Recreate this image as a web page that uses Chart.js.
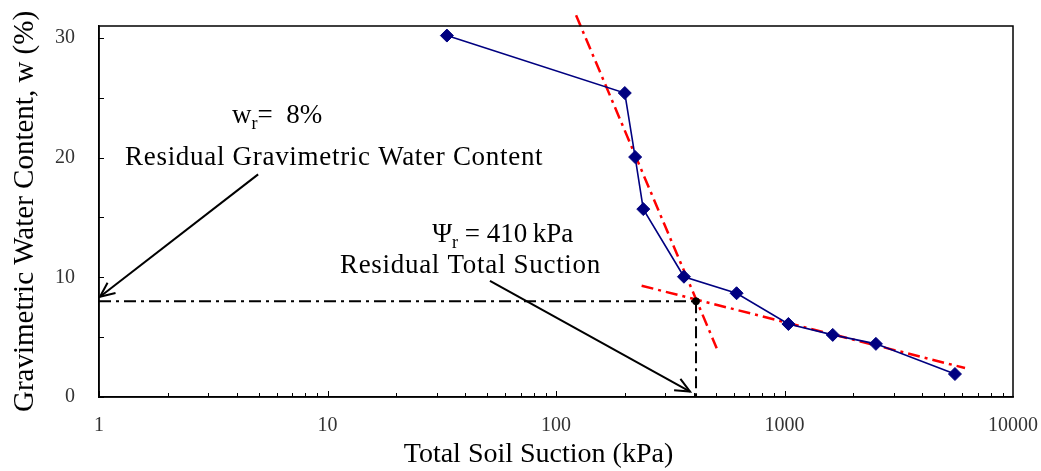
<!DOCTYPE html>
<html>
<head>
<meta charset="utf-8">
<script src="https://cdn.jsdelivr.net/npm/chart.js@4.4.1/dist/chart.umd.min.js"></script>
<style>
html,body{margin:0;padding:0;background:#fff;}
#wrap{width:1041px;height:471px;position:relative;}
</style>
</head>
<body>
<div id="wrap"><canvas id="c"></canvas></div>
<script>
// ---- data ----
const suction = [33.3, 200, 222, 241, 363, 617, 1040, 1626, 2512, 5572];       // kPa
const water   = [30.2, 25.4, 20.05, 15.7, 10.05, 8.67, 6.1, 5.19, 4.44, 1.92];   // %
const steepFitX = [122.4, 505];
const steepFitY = [31.9, 4.08];
const flatFitX  = [237, 6166];
const flatFitY  = [9.3, 2.42];
const residualSuction = 410;   // kPa
const residualWater   = 8;     // %
const xTickValues = [1, 10, 100, 1000, 10000];
const yTickValues = [0, 10, 20, 30];
const yMinorTicks = [0, 5, 10, 15, 20, 25, 30];
// annotations (data coordinates)
const arrowWater   = {from: [4.97, 18.6], to: [1.01, 8.37]};
const arrowSuction = {from: [51.4, 9.7],  to: [386, 0.45]};
const labelWr      = {at: [3.82, 22.9]};
const labelWrText  = {at: [1.30, 19.36], text: 'Residual Gravimetric Water Content'};
const labelPsi     = {at: [28.7, 12.92]};
const labelPsiText = {at: [11.34, 10.38], text: 'Residual Total Suction'};

const pts = (xs, ys) => xs.map((x, i) => ({x, y: ys[i]}));
const SERIF = '"Liberation Serif", "DejaVu Serif", serif';
const dashDot = [12, 5, 3, 5];

const overlay = {
  id: 'overlay',
  afterDraw(chart) {
    const {ctx, chartArea: a, scales: {x, y}} = chart;
    ctx.save();
    // frame
    ctx.strokeStyle = '#000';
    ctx.lineWidth = 1.5;
    ctx.strokeRect(a.left, a.top, a.right - a.left, a.bottom - a.top);
    // inward ticks
    ctx.lineWidth = 1;
    ctx.beginPath();
    for (let d = 0; d < 4; d++) {
      for (let k = 1; k <= 9; k++) {
        const v = k * Math.pow(10, d);
        const px = Math.round(x.getPixelForValue(v)) + 0.5;
        const len = k === 1 ? 6 : 4;
        ctx.moveTo(px, a.bottom); ctx.lineTo(px, a.bottom - len);
      }
    }
    yMinorTicks.forEach(v => {
      const py = Math.round(y.getPixelForValue(v)) + 0.5;
      ctx.moveTo(a.left, py); ctx.lineTo(a.left + 5, py);
    });
    ctx.stroke();

    // arrows
    const arrow = (ar) => {
      const x1 = x.getPixelForValue(ar.from[0]), y1 = y.getPixelForValue(ar.from[1]);
      const x2 = x.getPixelForValue(ar.to[0]),   y2 = y.getPixelForValue(ar.to[1]);
      ctx.strokeStyle = '#000';
      ctx.lineWidth = 2;
      ctx.beginPath(); ctx.moveTo(x1, y1); ctx.lineTo(x2, y2); ctx.stroke();
      const ang = Math.atan2(y2 - y1, x2 - x1);
      const L = 16, sp = 0.42;
      ctx.beginPath();
      ctx.moveTo(x2 - L * Math.cos(ang - sp), y2 - L * Math.sin(ang - sp));
      ctx.lineTo(x2, y2);
      ctx.lineTo(x2 - L * Math.cos(ang + sp), y2 - L * Math.sin(ang + sp));
      ctx.stroke();
    };
    arrow(arrowWater);
    arrow(arrowSuction);

    // texts
    ctx.fillStyle = '#000';
    ctx.textBaseline = 'alphabetic';
    ctx.textAlign = 'left';
    const big = '27px ' + SERIF, sub = '18px ' + SERIF;
    const put = (lab, txt) => {
      ctx.font = big;
      ctx.letterSpacing = '0.7px';
      ctx.fillText(txt, x.getPixelForValue(lab.at[0]), y.getPixelForValue(lab.at[1]));
    };
    put(labelWrText, labelWrText.text);
    put(labelPsiText, labelPsiText.text);
    const withSub = (lab, main, s, rest) => {
      let px = x.getPixelForValue(lab.at[0]);
      const py = y.getPixelForValue(lab.at[1]);
      ctx.letterSpacing = '0px';
      ctx.font = big; ctx.fillText(main, px, py); px += ctx.measureText(main).width;
      ctx.font = sub; ctx.fillText(s, px, py + 6); px += ctx.measureText(s).width;
      ctx.font = big; ctx.fillText(rest, px, py);
    };
    withSub(labelWr, 'w', 'r', '=  8%');
    withSub(labelPsi, '\u03A8', 'r', ' = 410\u2009kPa');
    ctx.restore();
  }
};

new Chart(document.getElementById('c'), {
  type: 'scatter',
  data: {
    datasets: [
      {
        data: pts(suction, water),
        showLine: true,
        borderColor: '#000080',
        backgroundColor: '#000080',
        borderWidth: 1.6,
        pointStyle: 'rectRot',
        pointRadius: 6.5,
        pointBorderWidth: 1,
        order: 0
      },
      {
        data: pts(steepFitX, steepFitY),
        showLine: true, borderColor: '#ff0000', borderWidth: 2.5,
        borderDash: dashDot, pointRadius: 0, clip: false, order: 1
      },
      {
        data: pts(flatFitX, flatFitY),
        showLine: true, borderColor: '#ff0000', borderWidth: 2.5,
        borderDash: dashDot, pointRadius: 0, clip: false, order: 1
      },
      {
        data: [{x: 1, y: residualWater}, {x: residualSuction, y: residualWater}],
        showLine: true, borderColor: '#000', borderWidth: 2,
        borderDash: dashDot, pointRadius: 0, order: 2
      },
      {
        data: [{x: residualSuction, y: residualWater}, {x: residualSuction, y: 0}],
        showLine: true, borderColor: '#000', borderWidth: 2,
        borderDash: dashDot, pointRadius: 0, order: 2
      },
      {
        data: [{x: residualSuction, y: residualWater}],
        pointRadius: 3.5, backgroundColor: '#000', borderColor: '#000', order: 0
      }
    ]
  },
  options: {
    responsive: true,
    maintainAspectRatio: false,
    animation: false,
    events: [],
    layout: {padding: {top: 26, right: 28, left: 0, bottom: 0}},
    plugins: {legend: {display: false}, tooltip: {enabled: false}},
    scales: {
      x: {
        type: 'logarithmic',
        min: 1, max: 10000,
        afterBuildTicks: s => { s.ticks = xTickValues.map(v => ({value: v})); },
        afterFit: s => { s.height = 74; s.paddingLeft = 0; s.paddingRight = 0; },
        grid: {display: false, drawTicks: false},
        border: {display: true, color: '#000', width: 1.5},
        ticks: {
          color: '#333', padding: 17,
          font: {family: SERIF, size: 20},
          callback: v => String(v), maxRotation: 0, autoSkip: false
        },
        title: {
          display: true, text: 'Total Soil Suction (kPa)\u00A0\u00A0\u00A0\u00A0\u00A0', color: '#000',
          font: {family: SERIF, size: 28}, padding: {top: 0, bottom: 0}
        }
      },
      y: {
        min: 0, max: 31,
        afterBuildTicks: s => { s.ticks = yTickValues.map(v => ({value: v})); },
        afterFit: s => { s.width = 99; s.paddingTop = 0; s.paddingBottom = 0; },
        grid: {display: false, drawTicks: false},
        border: {display: true, color: '#000', width: 1.5},
        ticks: {
          color: '#333', padding: 24,
          font: {family: SERIF, size: 20}
        },
        title: {
          display: true, text: 'Gravimetric Water Content, w (%)', color: '#000',
          font: {family: SERIF, size: 29}, padding: {top: 8, bottom: 0}
        }
      }
    }
  },
  plugins: [overlay]
});
</script>
</body>
</html>
